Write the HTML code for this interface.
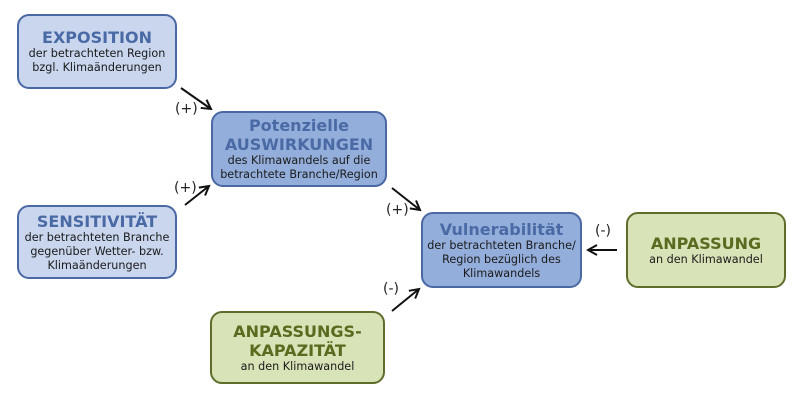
<!DOCTYPE html>
<html><head><meta charset="utf-8"><style>
body{margin:0;width:800px;height:404px;background:#fff;position:relative;overflow:hidden;font-family:"DejaVu Sans","Liberation Sans",sans-serif;}
.b{position:absolute;box-sizing:border-box;border:2px solid #4a68a3;border-radius:12px;text-align:center;display:flex;flex-direction:column;justify-content:center;font-size:11.2px;line-height:14px;color:#1a1a1a;}
.l{background:#c9d6ee}.d{background:#94aedb}.g{background:#d8e3b8;border-color:#5f6d2a}
.t{font-weight:bold;font-size:16px;line-height:19px;color:#4a6aa5}
.g .t{color:#5a6a1e}
.lab{position:absolute;font-size:14px;color:#222}
</style></head><body>
<div class="b l" style="left:17px;top:14px;width:160px;height:75px"><div class="t">EXPOSITION</div>der betrachteten Region<br>bzgl. Klimaänderungen</div>
<div class="b d" style="left:211px;top:111px;width:176px;height:76px"><div class="t">Potenzielle<br>AUSWIRKUNGEN</div>des Klimawandels auf die<br>betrachtete Branche/Region</div>
<div class="b l" style="left:17px;top:205px;width:160px;height:74px"><div class="t">SENSITIVITÄT</div>der betrachteten Branche<br>gegenüber Wetter- bzw.<br>Klimaänderungen</div>
<div class="b d" style="left:421px;top:212px;width:161px;height:76px"><div class="t">Vulnerabilität</div>der betrachteten Branche/<br>Region bezüglich des<br>Klimawandels</div>
<div class="b g" style="left:626px;top:212px;width:160px;height:76px"><div class="t">ANPASSUNG</div>an den Klimawandel</div>
<div class="b g" style="left:210px;top:311px;width:175px;height:73px"><div class="t">ANPASSUNGS-<br>KAPAZITÄT</div>an den Klimawandel</div>
<svg width="800" height="404" style="position:absolute;left:0;top:0">
<defs><marker id="a" markerWidth="12" markerHeight="12" refX="10" refY="6" orient="auto" markerUnits="userSpaceOnUse"><path d="M1,1 L10,6 L1,11" fill="none" stroke="#111" stroke-width="2"/></marker></defs>
<g stroke="#111" stroke-width="2" marker-end="url(#a)">
<line x1="181" y1="88" x2="211" y2="109"/>
<line x1="185" y1="205" x2="209" y2="186"/>
<line x1="392" y1="188" x2="420" y2="210"/>
<line x1="392" y1="311" x2="419" y2="289"/>
<line x1="617" y1="250" x2="588" y2="250"/>
</g></svg>
<div class="lab" style="left:175px;top:101px">(+)</div>
<div class="lab" style="left:174px;top:180px">(+)</div>
<div class="lab" style="left:386px;top:202px">(+)</div>
<div class="lab" style="left:383px;top:281px">(-)</div>
<div class="lab" style="left:595px;top:223px">(-)</div>
</body></html>
